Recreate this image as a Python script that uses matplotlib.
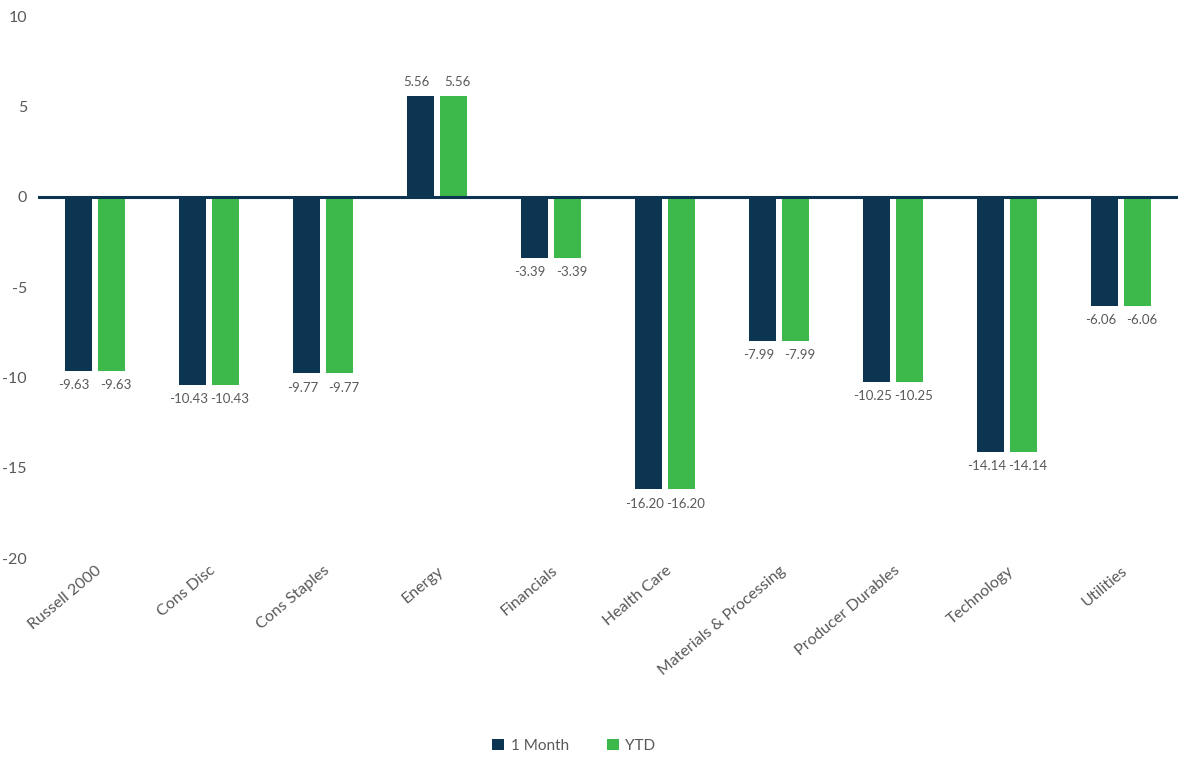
import numpy as np
import matplotlib.pyplot as plt

categories = ['Russell 2000', 'Cons Disc', 'Cons Staples', 'Energy', 'Financials',
              'Health Care', 'Materials & Processing', 'Producer Durables',
              'Technology', 'Utilities']
one_month = [-9.63, -10.43, -9.77, 5.56, -3.39, -16.20, -7.99, -10.25, -14.14, -6.06]
ytd = [-9.63, -10.43, -9.77, 5.56, -3.39, -16.20, -7.99, -10.25, -14.14, -6.06]
series_names = ['1 Month', 'YTD']

dark = '#0b3550'
green = '#3db84b'
grey = '#595959'

plt.rcParams['font.family'] = ['Lato', 'DejaVu Sans']

fig = plt.figure(figsize=(11.93, 7.61), dpi=100)
ax = fig.add_axes([38 / 1193, (761 - 558) / 761, 1140 / 1193, 542 / 761])

x = np.arange(len(categories))
w = 0.23
off = 0.145
b1 = ax.bar(x - off, one_month, w, color=dark, label=series_names[0])
b2 = ax.bar(x + off, ytd, w, color=green, label=series_names[1])

# value labels, nudged a bit apart so the pairs don't run into each other
for bars, vals, dx in [(b1, one_month, -3), (b2, ytd, 3)]:
    for b, v in zip(bars, vals):
        cx = b.get_x() + b.get_width() / 2
        if v >= 0:
            ax.annotate(f'{v:.2f}', (cx, v), xytext=(dx, 6), textcoords='offset points',
                        ha='center', va='bottom', fontsize=9.5, color=grey)
        else:
            ax.annotate(f'{v:.2f}', (cx, v), xytext=(dx, -6), textcoords='offset points',
                        ha='center', va='top', fontsize=9.5, color=grey)

ax.axhline(0, color=dark, linewidth=2.2, zorder=3)

ax.set_ylim(-20, 10)
ax.set_xlim(-0.5, len(categories) - 0.5)
ax.set_yticks([10, 5, 0, -5, -10, -15, -20])
ax.set_yticklabels(['10', '5', '0', '-5', '-10', '-15', '-20'])
ax.tick_params(axis='y', length=0, labelsize=11.5, labelcolor=grey, pad=8)
ax.set_xticks(x)
ax.set_xticklabels(categories, rotation=40, ha='right', rotation_mode='anchor',
                   fontsize=11.5, color=grey)
ax.tick_params(axis='x', length=0, pad=4)
for s in ax.spines.values():
    s.set_visible(False)

ax.legend(loc='lower center', bbox_to_anchor=(0.47, -0.385), ncol=2, frameon=False,
          fontsize=11, handlelength=0.8, handleheight=0.8, columnspacing=2.5,
          labelcolor=grey, handletextpad=0.4)

fig.savefig('out.png', dpi=100)
